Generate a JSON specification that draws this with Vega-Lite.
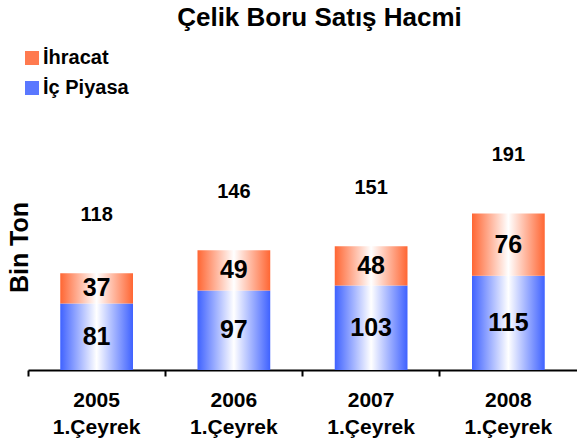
{
  "$schema": "https://vega.github.io/schema/vega-lite/v6.json",
  "width": 549,
  "height": 246,
  "autosize": {"type": "none"},
  "padding": {"left": 28, "top": 124, "right": 0, "bottom": 73},
  "background": "white",
  "config": {"view": {"stroke": null}, "font": "Liberation Sans"},
  "title": {"text": "Çelik Boru Satış Hacmi", "fontSize": 26, "fontWeight": "bold", "color": "black", "anchor": "middle", "dx": 17, "offset": 17},
  "data": {"values": [
    {"yil": "2005", "tip": "İç Piyasa", "deger": 81, "toplam": 118},
    {"yil": "2005", "tip": "İhracat", "deger": 37, "toplam": 118},
    {"yil": "2006", "tip": "İç Piyasa", "deger": 97, "toplam": 146},
    {"yil": "2006", "tip": "İhracat", "deger": 49, "toplam": 146},
    {"yil": "2007", "tip": "İç Piyasa", "deger": 103, "toplam": 151},
    {"yil": "2007", "tip": "İhracat", "deger": 48, "toplam": 151},
    {"yil": "2008", "tip": "İç Piyasa", "deger": 115, "toplam": 191},
    {"yil": "2008", "tip": "İhracat", "deger": 76, "toplam": 191}
  ]},
  "transform": [
    {"stack": "deger", "groupby": ["yil"], "sort": [{"field": "tip", "order": "descending"}], "as": ["y0", "y1"]}
  ],
  "encoding": {
    "x": {"field": "yil", "type": "ordinal", "scale": {"paddingInner": 0, "paddingOuter": 0},
      "axis": {"title": null, "labelAngle": 0, "labelExpr": "[datum.label, '1.Çeyrek']", "labelFontSize": 21, "labelFontWeight": "bold", "labelColor": "black", "labelLineHeight": 27, "labelPadding": 13, "bandPosition": 0, "domainColor": "black", "domainWidth": 2, "tickColor": "black", "tickWidth": 2, "tickSize": 6, "grid": false}}
  },
  "layer": [
    {
      "mark": {"type": "bar", "width": {"band": 0.53}, "opacity": 0},
      "encoding": {
        "y": {"field": "y1", "type": "quantitative", "scale": {"domain": [0, 300]},
          "axis": {"title": "Bin Ton", "titleFontSize": 25, "titleFontWeight": "bold", "titleColor": "black", "labels": false, "ticks": false, "domain": false, "grid": false, "titlePadding": -4}},
        "y2": {"field": "y0"},
        "color": {"field": "tip", "type": "nominal",
          "scale": {"domain": ["İhracat", "İç Piyasa"], "range": ["#ff7a4f", "#5a78ff"]},
          "legend": {"title": null, "orient": "none", "legendX": -6, "legendY": -76, "symbolType": "square", "symbolSize": 196, "symbolOpacity": 1, "symbolStrokeWidth": 0, "labelFontSize": 20, "labelFontWeight": "bold", "labelColor": "black", "rowPadding": 10, "labelOffset": 1, "padding": 0}}
      }
    },
    {
      "transform": [{"filter": "datum.tip === 'İç Piyasa'"}],
      "mark": {"type": "bar", "width": {"band": 0.53}, "color": {"gradient": "linear", "x1": 0, "x2": 1, "y1": 0, "y2": 0, "stops": [{"offset": 0, "color": "#3f62ff"}, {"offset": 0.5, "color": "#ffffff"}, {"offset": 1, "color": "#3f62ff"}]}},
      "encoding": {
        "y": {"field": "y1", "type": "quantitative"},
        "y2": {"field": "y0"}
      }
    },
    {
      "transform": [{"filter": "datum.tip === 'İhracat'"}],
      "mark": {"type": "bar", "width": {"band": 0.53}, "color": {"gradient": "linear", "x1": 0, "x2": 1, "y1": 0, "y2": 0, "stops": [{"offset": 0, "color": "#ff6633"}, {"offset": 0.5, "color": "#ffffff"}, {"offset": 1, "color": "#ff6633"}]}},
      "encoding": {
        "y": {"field": "y1", "type": "quantitative"},
        "y2": {"field": "y0"}
      }
    },
    {
      "transform": [
        {"fold": ["y0", "y1"], "as": ["uc", "konum"]},
        {"aggregate": [{"op": "mean", "field": "konum", "as": "orta"}], "groupby": ["yil", "tip", "deger"]}
      ],
      "mark": {"type": "text", "fontSize": 25, "fontWeight": "bold", "color": "black", "baseline": "middle"},
      "encoding": {
        "y": {"field": "orta", "type": "quantitative"},
        "text": {"field": "deger", "type": "quantitative"}
      }
    },
    {
      "transform": [{"filter": "datum.tip === 'İhracat'"}],
      "mark": {"type": "text", "fontSize": 20, "fontWeight": "bold", "color": "black", "baseline": "middle", "dy": -58},
      "encoding": {
        "y": {"field": "toplam", "type": "quantitative"},
        "text": {"field": "toplam", "type": "quantitative"}
      }
    }
  ]
}
